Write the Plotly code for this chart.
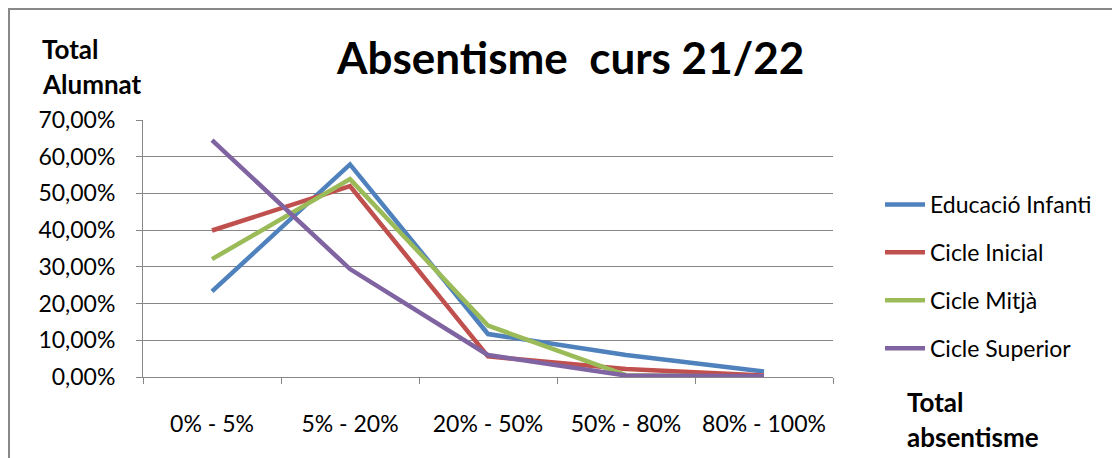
import plotly.graph_objects as go

categories = ["0% - 5%", "5% - 20%", "20% - 50%", "50% - 80%", "80% - 100%"]
series_names = ["Educació Infanti", "Cicle Inicial", "Cicle Mitjà", "Cicle Superior"]
educacio_infantil = [23.3, 57.9, 11.7, 6.0, 1.5]
cicle_inicial = [39.9, 52.0, 5.6, 2.2, 0.4]
cicle_mitja = [32.1, 53.9, 14.0, 0.5, 0.0]
cicle_superior = [64.5, 29.4, 6.0, 0.4, 0.2]
y_ticks = [0, 10, 20, 30, 40, 50, 60, 70]
y_tick_labels = ["0,00%", "10,00%", "20,00%", "30,00%", "40,00%", "50,00%", "60,00%", "70,00%"]

colors = ["#4F81BD", "#C0504D", "#9BBB59", "#8064A2"]
FONT = "Lato"

fig = go.Figure()
for name, vals, col in zip(series_names,
                           [educacio_infantil, cicle_inicial, cicle_mitja, cicle_superior],
                           colors):
    fig.add_trace(go.Scatter(x=categories, y=vals, name=name, mode="lines",
                             legendgroup=name,
                             line=dict(color=col, width=4.5)))

OFF = 8  # page body margin offset
W, H = 1120, 458
# target screen positions of plot area
SL, SR, ST, SB = 143, 833, 120, 377
L, R, T, B = SL - OFF, SR - OFF, ST - OFF, SB - OFF
pw, ph = R - L, B - T

def px(x):
    return (x - OFF - L) / pw

def py(y):
    return (B - (y - OFF)) / ph

fig.update_layout(
    width=W, height=H,
    margin=dict(l=L, r=W - R, t=T, b=H - B, autoexpand=False),
    paper_bgcolor="white", plot_bgcolor="white",
    font=dict(family=FONT, size=23, color="#000000"),
    showlegend=True,
    legend=dict(x=px(880), y=py(183), xanchor="left", yanchor="top",
                font=dict(family=FONT, size=23, color="#000000"),
                tracegroupgap=15, itemwidth=40, bgcolor="rgba(0,0,0,0)"),
    xaxis=dict(type="category", range=[-0.5, len(categories) - 0.5],
               showgrid=False, showline=True, linecolor="#868686",
               linewidth=1, ticks="outside", tickson="boundaries", ticklen=6,
               tickcolor="#868686", ticklabelstandoff=26,
               tickfont=dict(family=FONT, size=23, color="#000000"), fixedrange=True),
    yaxis=dict(range=[0, 70], tickvals=y_ticks, ticktext=y_tick_labels,
               showgrid=True, gridcolor="#868686", gridwidth=1,
               showline=True, linecolor="#868686", linewidth=1,
               ticks="outside", ticklen=6, tickcolor="#868686", ticklabelstandoff=16,
               tickfont=dict(family=FONT, size=23, color="#000000"),
               zeroline=False, fixedrange=True),
)

fig.add_annotation(text="<b>Absentisme  curs 21/22</b>", xref="paper", yref="paper",
                   x=px(570), y=py(57), xanchor="center", yanchor="middle",
                   showarrow=False, font=dict(family=FONT, size=44, color="#000000"))
for txt, xx, yy in [("Total", 40, 49), ("Alumnat", 40, 84),
                    ("Total", 905, 402), ("absentisme", 905, 437)]:
    fig.add_annotation(text="<b>" + txt + "</b>", xref="paper", yref="paper",
                       x=px(xx), y=py(yy), xanchor="left", yanchor="middle",
                       showarrow=False, font=dict(family=FONT, size=26, color="#000000"))

# chart frame
fig.add_shape(type="line", xref="paper", yref="paper", x0=px(9), x1=px(9),
              y0=py(8), y1=py(480), line=dict(color="#888888", width=2))
fig.add_shape(type="line", xref="paper", yref="paper", x0=px(9), x1=px(1140),
              y0=py(9), y1=py(9), line=dict(color="#888888", width=2))

fig.write_html("out.html")
